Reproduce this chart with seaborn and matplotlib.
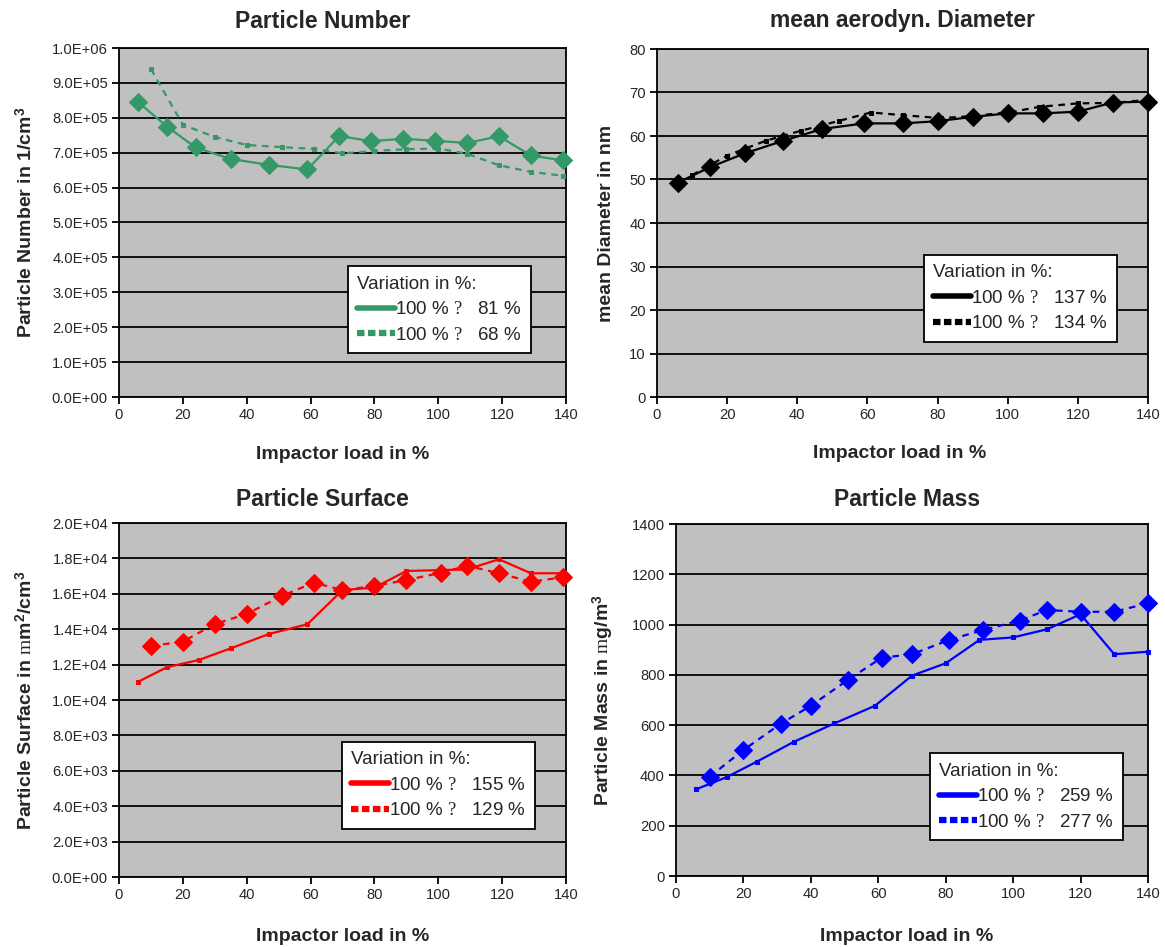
import matplotlib
matplotlib.use("Agg")
import matplotlib.pyplot as plt
from matplotlib.lines import Line2D
from matplotlib.ticker import FuncFormatter, MultipleLocator
import seaborn as sns
import pandas as pd

# ---------------- data ----------------
# Particle Number
num_solid_x = [6, 15, 24, 35, 47, 59, 69, 79, 89, 99, 109, 119, 129, 139]
num_solid_y = [8.45e5, 7.75e5, 7.15e5, 6.82e5, 6.65e5, 6.52e5, 7.48e5, 7.33e5,
               7.40e5, 7.34e5, 7.28e5, 7.47e5, 6.92e5, 6.78e5]
num_dash_x = [10, 20, 30, 40, 51, 61, 70, 80, 90, 100, 109, 119, 129, 139]
num_dash_y = [9.40e5, 7.80e5, 7.45e5, 7.22e5, 7.16e5, 7.11e5, 6.98e5, 7.05e5,
              7.10e5, 7.12e5, 6.97e5, 6.64e5, 6.45e5, 6.34e5]

# mean aerodyn. Diameter
dia_solid_x = [6, 15, 25, 36, 47, 59, 70, 80, 90, 100, 110, 120, 130, 140]
dia_solid_y = [49.3, 52.8, 56.0, 58.9, 61.6, 62.9, 62.9, 63.4, 64.4, 65.2, 65.2, 65.6, 67.7, 67.9]
dia_dash_x = [10, 20, 31, 41, 52, 61, 70, 81, 90, 101, 109, 120, 130, 140]
dia_dash_y = [51.0, 55.5, 58.9, 61.2, 63.5, 65.4, 64.8, 64.1, 64.6, 65.5, 66.7, 67.5, 67.6, 68.3]

# Particle Surface
sur_solid_x = [6, 15, 25, 35, 47, 59, 70, 80, 90, 101, 109, 119, 129, 139]
sur_solid_y = [11.03e3, 11.85e3, 12.26e3, 12.92e3, 13.73e3, 14.28e3, 16.21e3, 16.35e3,
               17.29e3, 17.34e3, 17.38e3, 17.95e3, 17.16e3, 17.16e3]
sur_dash_x = [10, 20, 30, 40, 51, 61, 70, 80, 90, 101, 109, 119, 129, 139]
sur_dash_y = [13.05e3, 13.30e3, 14.29e3, 14.86e3, 15.88e3, 16.63e3, 16.21e3, 16.44e3,
              16.78e3, 17.19e3, 17.59e3, 17.16e3, 16.68e3, 16.93e3]

# Particle Mass
mas_solid_x = [6, 15, 24, 35, 47, 59, 70, 80, 90, 100, 110, 120, 130, 140]
mas_solid_y = [345, 393, 455, 534, 607, 677, 797, 846, 939, 949, 981, 1041, 882, 892]
mas_dash_x = [10, 20, 31, 40, 51, 61, 70, 81, 91, 102, 110, 120, 130, 140]
mas_dash_y = [395, 501, 605, 677, 780, 868, 882, 939, 978, 1016, 1058, 1051, 1051, 1085]

titles = ["Particle Number", "mean aerodyn. Diameter", "Particle Surface", "Particle Mass"]
ylabels = [r"Particle Number in 1/cm$^{\mathbf{3}}$",
           "mean Diameter in nm",
           r"Particle Surface in $\mathrm{m}$m$^{\mathbf{2}}$/cm$^{\mathbf{3}}$",
           r"Particle Mass in $\mathrm{m}$g/m$^{\mathbf{3}}$"]
xlabel = "Impactor load in %"
legend_title = "Variation in %:"
legend_solid = [r"100 % $\mathrm{?}$   81 %", r"100 % $\mathrm{?}$   137 %",
                r"100 % $\mathrm{?}$   155 %", r"100 % $\mathrm{?}$   259 %"]
legend_dash = [r"100 % $\mathrm{?}$   68 %", r"100 % $\mathrm{?}$   134 %",
               r"100 % $\mathrm{?}$   129 %", r"100 % $\mathrm{?}$   277 %"]
colors = ["#339966", "black", "#FF0000", "#0000FF"]

# ---------------- style ----------------
sns.set_style("white")
plt.rcParams["font.family"] = ["Liberation Sans", "DejaVu Sans"]
plt.rcParams["mathtext.fontset"] = "custom"
plt.rcParams["mathtext.rm"] = "Liberation Serif"
plt.rcParams["mathtext.it"] = "Liberation Serif"
plt.rcParams["mathtext.bf"] = "Liberation Sans:bold"

fig = plt.figure(figsize=(11.65, 9.47), dpi=100)
W, H = 1165.0, 947.0
boxes = [(119, 566, 48, 397), (657, 1148, 49, 397), (119, 566, 523, 877), (676, 1148, 524, 876)]
axes = []
for (l, r, t, b) in boxes:
    axes.append(fig.add_axes([l / W, 1 - b / H, (r - l) / W, (b - t) / H]))

ylims = [(0, 1.0e6), (0, 80), (0, 2.0e4), (0, 1400)]
ysteps = [1.0e5, 10, 2.0e3, 200]
sci = [True, False, True, False]

series = [
    (num_solid_x, num_solid_y, num_dash_x, num_dash_y, "D", 9, "s", 3.5),
    (dia_solid_x, dia_solid_y, dia_dash_x, dia_dash_y, "D", 9, "s", 3.5),
    (sur_solid_x, sur_solid_y, sur_dash_x, sur_dash_y, "s", 3.5, "D", 9),
    (mas_solid_x, mas_solid_y, mas_dash_x, mas_dash_y, "s", 3.5, "D", 9),
]
leg_pos = [(0.512, 0.126), (0.544, 0.159), (0.499, 0.136), (0.538, 0.102)]
title_pos = [(323, 21), (903, 21), (322, 499), (907, 499)]
ylab_x = [-0.185, -0.085, -0.185, -0.127]
xlab_pos = [(0.50, -0.139), (0.495, -0.139), (0.50, -0.143), (0.489, -0.147)]

for i, ax in enumerate(axes):
    sx, sy, dx, dy, m1, ms1, m2, ms2 = series[i]
    c = colors[i]
    df_s = pd.DataFrame({"x": sx, "y": sy})
    df_d = pd.DataFrame({"x": dx, "y": dy})
    sns.lineplot(data=df_s, x="x", y="y", ax=ax, color=c, lw=1.6, marker=m1,
                 markersize=ms1, markeredgecolor=c, markerfacecolor=c, zorder=3,
                 clip_on=False)
    sns.lineplot(data=df_d, x="x", y="y", ax=ax, color=c, lw=1.6, marker=m2,
                 markersize=ms2, markeredgecolor=c, markerfacecolor=c,
                 linestyle=(0, (3, 2.5)), zorder=3, clip_on=False)
    ax.set_facecolor("#C0C0C0")
    ax.set_xlim(0, 140)
    ax.set_ylim(*ylims[i])
    ax.xaxis.set_major_locator(MultipleLocator(20))
    ax.yaxis.set_major_locator(MultipleLocator(ysteps[i]))
    if sci[i]:
        ax.yaxis.set_major_formatter(FuncFormatter(lambda v, p: f"{v:.1E}"))
    else:
        ax.yaxis.set_major_formatter(FuncFormatter(lambda v, p: f"{v:.0f}"))
    ax.grid(axis="y", color="black", lw=1.3)
    ax.grid(axis="x", visible=False)
    ax.set_axisbelow(True)
    for sp in ax.spines.values():
        sp.set_color("black")
        sp.set_linewidth(1.3)
        sp.set_visible(True)
    ax.tick_params(axis="both", direction="out", length=5, width=1.3, color="black",
                   labelsize=10.6, pad=3, left=True, bottom=True)
    ax.set_title("")
    fig.text(title_pos[i][0] / W, 1 - title_pos[i][1] / H, titles[i], fontsize=16.5,
             fontweight="bold", ha="center", va="center")
    ax.set_xlabel(xlabel, fontsize=14, fontweight="bold")
    ax.xaxis.set_label_coords(*xlab_pos[i])
    ax.set_ylabel(ylabels[i], fontsize=14, fontweight="bold")
    ax.yaxis.set_label_coords(ylab_x[i], 0.5)

    h1 = Line2D([], [], color=c, lw=4, solid_capstyle="round")
    h2 = Line2D([], [], color=c, lw=4.5, linestyle=(0, (1.2, 0.55)), dash_capstyle="butt")
    leg = ax.legend([h1, h2], [legend_solid[i], legend_dash[i]], title=legend_title,
                    loc="lower left", bbox_to_anchor=leg_pos[i], borderaxespad=0,
                    fontsize=13.5, title_fontsize=13.5, alignment="left",
                    frameon=True, fancybox=False, framealpha=1, edgecolor="black",
                    handlelength=2.0, handletextpad=0.0, labelspacing=0.45,
                    borderpad=0.5)
    leg.get_frame().set_linewidth(1.3)
    leg.set_zorder(5)

fig.savefig("out.png", dpi=100)
